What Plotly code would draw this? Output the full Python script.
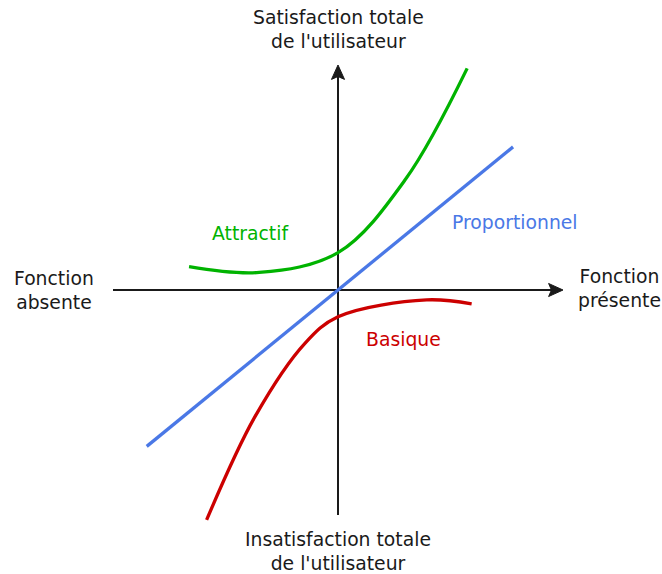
import plotly.graph_objects as go

# ---- data (feature fulfilment -> satisfaction, arbitrary units) ----
prop_x = [-0.85, 0.778]
prop_y = [-0.695, 0.636]

attr_x = [-0.662, -0.350, 0.0, 0.300, 0.574]
attr_y = [0.104, 0.078, 0.166, 0.492, 0.985]

bas_x = [-0.584, -0.369, -0.147, 0.0, 0.394, 0.594]
bas_y = [-1.022, -0.563, -0.237, -0.119, -0.044, -0.062]

labels = {
    "top": "Satisfaction totale<br>de l'utilisateur",
    "bottom": "Insatisfaction totale<br>de l'utilisateur",
    "left": "Fonction<br>absente",
    "right": "Fonction<br>présente",
    "attr": "Attractif",
    "prop": "Proportionnel",
    "bas": "Basique",
}

GREEN = "#00b300"
BLUE = "#4a78e6"
RED = "#cc0000"
AX = "#1a1a1a"
FONT = "DejaVu Sans"
FS = 18.8

fig = go.Figure()

# axes lines
axis_len = 1.0
head_len = 0.064
head_w = 0.029
fig.add_trace(go.Scatter(x=[-axis_len, axis_len - head_len * 0.6], y=[0, 0], mode="lines",
                         line=dict(color=AX, width=2), hoverinfo="skip", showlegend=False))
fig.add_trace(go.Scatter(x=[0, 0], y=[-axis_len, axis_len - head_len * 0.6], mode="lines",
                         line=dict(color=AX, width=2), hoverinfo="skip", showlegend=False))

# curves
fig.add_trace(go.Scatter(x=prop_x, y=prop_y, mode="lines",
                         line=dict(color=BLUE, width=3.3), showlegend=False))
fig.add_trace(go.Scatter(x=attr_x, y=attr_y, mode="lines",
                         line=dict(color=GREEN, width=3.3, shape="spline", smoothing=1.0), showlegend=False))
fig.add_trace(go.Scatter(x=bas_x, y=bas_y, mode="lines",
                         line=dict(color=RED, width=3.3, shape="spline", smoothing=1.0), showlegend=False))

# arrowheads (slightly concave triangles)
t = axis_len
notch = head_len * 0.8
path_r = (f"M {t},0 L {t-head_len},{head_w} L {t-notch},0 L {t-head_len},{-head_w} Z")
path_u = (f"M 0,{t} L {head_w},{t-head_len} L 0,{t-notch} L {-head_w},{t-head_len} Z")
for p in (path_r, path_u):
    fig.add_shape(type="path", path=p, xref="x", yref="y",
                  fillcolor=AX, line=dict(color=AX, width=1))

def txt(x, y, s, color=AX, xanchor="center"):
    fig.add_annotation(x=x, y=y, text=s, showarrow=False, xref="x", yref="y",
                       xanchor=xanchor, yanchor="middle",
                       font=dict(family=FONT, size=FS, color=color))

txt(0.0, 1.156, labels["top"])
txt(0.0, -1.163, labels["bottom"])
txt(-1.262, -0.004, labels["left"])
txt(1.253, 0.007, labels["right"])
txt(-0.391, 0.251, labels["attr"], GREEN)
txt(0.788, 0.298, labels["prop"], BLUE)
txt(0.289, -0.222, labels["bas"], RED)

fig.update_layout(
    width=662, height=574,
    margin=dict(l=0, r=0, t=0, b=0),
    paper_bgcolor="white", plot_bgcolor="white",
    xaxis=dict(range=[-338 / 225, 324 / 225], visible=False, fixedrange=True),
    yaxis=dict(range=[-284 / 225, 290 / 225], visible=False, fixedrange=True),
)

# remove the default page margin so the figure fills the window exactly
fig.write_html(
    "out.html",
    config={"displayModeBar": False},
    post_script="document.body.style.margin='0';document.body.style.overflow='hidden';",
)
